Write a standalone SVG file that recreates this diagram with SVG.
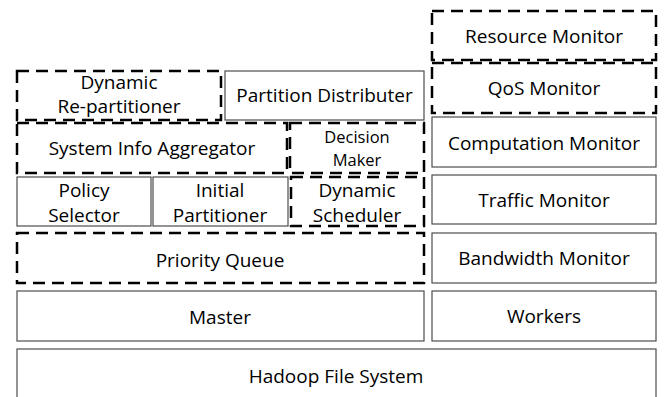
<svg xmlns="http://www.w3.org/2000/svg" width="664" height="397" viewBox="0 0 664 397">
<style>
  .solid { fill: #ffffff; stroke: #4d4d4d; stroke-width: 1.2; }
  .dash { fill: #ffffff; stroke: #000000; stroke-width: 2.5; stroke-dasharray: 12 7; }
  text { font-family: "Open Sans", "Noto Sans", sans-serif; font-size: 19px; fill: #000000; text-anchor: middle; }
  .sm { font-size: 16.5px; }
</style>
<rect width="664" height="397" fill="#ffffff"/>
<g id="hadoop"><rect class="solid" x="17" y="349" width="639" height="60"/><text x="336" y="383">Hadoop File System</text></g>
<g id="master"><rect class="solid" x="17" y="291" width="407" height="50"/><text x="220" y="324">Master</text></g>
<g id="workers"><rect class="solid" x="432" y="291" width="224" height="50"/><text x="544" y="323">Workers</text></g>
<g id="priority-queue"><rect class="dash" x="17" y="233" width="407" height="50"/><text x="220" y="267">Priority Queue</text></g>
<g id="bandwidth-monitor"><rect class="solid" x="432" y="233" width="224" height="50"/><text x="544" y="265">Bandwidth Monitor</text></g>
<g id="policy-selector"><rect class="solid" x="17" y="177" width="134" height="49"/><text x="84" y="197">Policy</text><text x="84" y="222">Selector</text></g>
<g id="initial-partitioner"><rect class="solid" x="153" y="177" width="135" height="49"/><text x="220" y="197">Initial</text><text x="220" y="222">Partitioner</text></g>
<g id="dynamic-scheduler"><rect class="dash" x="291" y="177" width="133" height="49"/><text x="357" y="197">Dynamic</text><text x="357" y="222">Scheduler</text></g>
<g id="traffic-monitor"><rect class="solid" x="432" y="175" width="224" height="49"/><text x="544" y="207">Traffic Monitor</text></g>
<g id="system-info-aggregator"><rect class="dash" x="17" y="123" width="270" height="50"/><text x="152" y="155">System Info Aggregator</text></g>
<g id="decision-maker"><rect class="dash" x="290" y="123" width="134" height="50"/><text class="sm" x="357" y="143">Decision</text><text class="sm" x="357" y="166">Maker</text></g>
<g id="computation-monitor"><rect class="solid" x="432" y="117" width="224" height="50"/><text x="544" y="150">Computation Monitor</text></g>
<g id="dynamic-repartitioner"><rect class="dash" x="17" y="71" width="204" height="49"/><text x="119" y="89">Dynamic</text><text x="119" y="113">Re-partitioner</text></g>
<g id="partition-distributer"><rect class="solid" x="225" y="71" width="199" height="49"/><text x="324.5" y="102">Partition Distributer</text></g>
<g id="qos-monitor"><rect class="dash" x="432" y="63" width="224" height="50"/><text x="544" y="95">QoS Monitor</text></g>
<g id="resource-monitor"><rect class="dash" x="432" y="11" width="224" height="49"/><text x="544" y="43">Resource Monitor</text></g>
<g id="connectors"></g>
</svg>
